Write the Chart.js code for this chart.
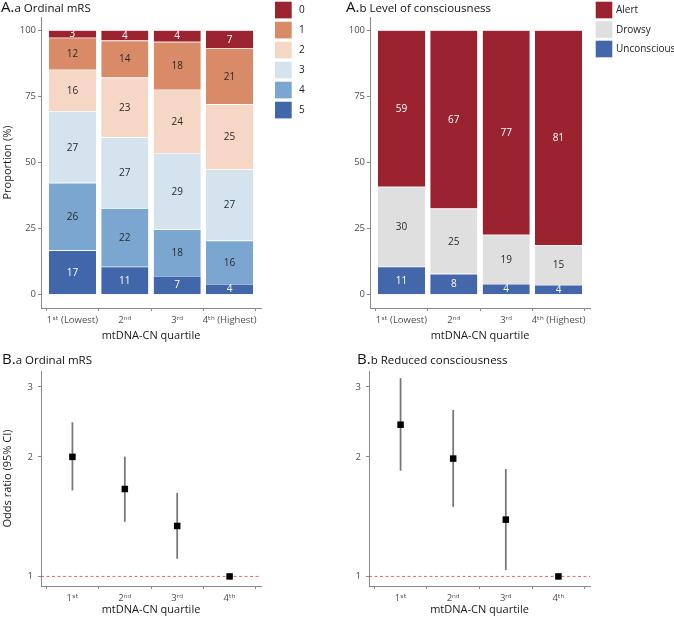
<!DOCTYPE html>
<html>
<head>
<meta charset="utf-8">
<script src="https://cdn.jsdelivr.net/npm/chart.js@4.4.1/dist/chart.umd.min.js"></script>
<style>
  html, body { margin: 0; padding: 0; background: #fff; }
  #wrap { position: relative; width: 674px; height: 618px; overflow: hidden; background: #fff; }
  canvas { position: absolute; }
</style>
</head>
<body>
<div id="wrap">
  <canvas id="chartAa" width="337" height="345" style="left:0;top:0"></canvas>
  <canvas id="chartAb" width="337" height="345" style="left:337px;top:0"></canvas>
  <canvas id="chartBa" width="337" height="273" style="left:0;top:345px"></canvas>
  <canvas id="chartBb" width="337" height="273" style="left:337px;top:345px"></canvas>
</div>
<script>
// --- DATA ---
const quartileLabels = ['1ˢᵗ (Lowest)', '2ⁿᵈ', '3ʳᵈ', '4ᵗʰ (Highest)'];
const quartileShort = ['1ˢᵗ', '2ⁿᵈ', '3ʳᵈ', '4ᵗʰ'];
const propTicks = [0, 25, 50, 75, 100];
const orTicks = [1, 2, 3];

// A.a ordinal mRS, proportion (%) per quartile
const mrs0 = [2.8, 3.9, 4.4, 6.8];
const mrs1 = [12.1, 14.0, 18.1, 21.2];
const mrs2 = [15.8, 22.6, 23.9, 24.6];
const mrs3 = [27.0, 26.8, 28.9, 26.9];
const mrs4 = [25.5, 22.1, 17.6, 16.4];
const mrs5 = [16.8, 10.6, 7.1, 4.1];

// A.b level of consciousness (%)
const alertPct = [59.2, 67.4, 77.3, 81.3];
const drowsyPct = [30.2, 24.7, 18.6, 15.0];
const unconsciousPct = [10.6, 7.9, 4.1, 3.7];

// B.a odds ratios, ordinal mRS
const mrsOR = [2.00, 1.66, 1.34, 1.00];
const mrsLow = [1.65, 1.375, 1.11, null];
const mrsHigh = [2.44, 2.00, 1.62, null];

// B.b odds ratios, reduced consciousness
const consOR = [2.41, 1.98, 1.39, 1.00];
const consLow = [1.85, 1.50, 1.04, null];
const consHigh = [3.15, 2.62, 1.86, null];

const refOR = 1;

// --- STYLE ---
const AXIS = '#8a8a8a';
const TICK_TXT = '#4d4d4d';
const TITLE_TXT = '#1a1a1a';
const FONT = '"Open Sans", "DejaVu Sans", sans-serif';
Chart.defaults.font.family = FONT;
Chart.defaults.animation = false;

// --- PLUGINS ---
// numbers in the middle of each stacked segment
const segLabels = {
    id: 'segLabels',
    afterDatasetsDraw(chart) {
        const ctx = chart.ctx;
        ctx.save();
        ctx.font = '10px ' + FONT;
        ctx.textAlign = 'center';
        ctx.textBaseline = 'middle';
        chart.data.datasets.forEach((ds, di) => {
            const meta = chart.getDatasetMeta(di);
            meta.data.forEach((bar, i) => {
                const p = bar.getProps(['x', 'y', 'base'], true);
                ctx.fillStyle = ds.labelColor;
                ctx.fillText(String(Math.round(ds.data[i].y)), p.x, (p.y + p.base) / 2 + 0.5);
            });
        });
        ctx.restore();
    }
};

// ggplot-like legend of square keys, top item = top of stack
const boxLegend = {
    id: 'boxLegend',
    afterDraw(chart, args, o) {
        if (!o || o.x === undefined) return;
        const ctx = chart.ctx;
        ctx.save();
        ctx.font = '10px ' + FONT;
        ctx.textAlign = 'left';
        ctx.textBaseline = 'middle';
        chart.data.datasets.slice().reverse().forEach((ds, k) => {
            const y = o.y + k * o.step;
            ctx.fillStyle = ds.backgroundColor;
            ctx.fillRect(o.x, y, o.size, o.size);
            ctx.fillStyle = '#222';
            ctx.fillText(ds.label, o.textX, y + o.size / 2 + 0.5);
        });
        ctx.restore();
    }
};

// panel title "A.a Ordinal mRS" with bigger letter
const panelTitle = {
    id: 'panelTitle',
    afterDraw(chart, args, o) {
        if (!o || !o.big) return;
        const ctx = chart.ctx;
        ctx.save();
        ctx.fillStyle = '#111';
        ctx.textBaseline = 'alphabetic';
        ctx.textAlign = 'left';
        ctx.font = '15px ' + FONT;
        ctx.fillText(o.big, o.x, o.y);
        const w = ctx.measureText(o.big).width;
        ctx.font = '11.5px ' + FONT;
        ctx.fillText(o.small, o.x + w, o.y);
        ctx.restore();
    }
};

// dashed reference line at OR = 1
const refLine = {
    id: 'refLine',
    beforeDatasetsDraw(chart, args, o) {
        if (!o || o.value === undefined) return;
        const {ctx, chartArea} = chart;
        const y = chart.scales.y.getPixelForValue(o.value);
        ctx.save();
        ctx.strokeStyle = '#e0403f';
        ctx.lineWidth = 0.8;
        ctx.setLineDash([3, 2.5]);
        ctx.beginPath();
        ctx.moveTo(chartArea.left, y);
        ctx.lineTo(chartArea.right, y);
        ctx.stroke();
        ctx.restore();
    }
};

// --- HELPERS ---
function xAxis(labels, height, tickPad, titlePad) {
    return {
        type: 'linear', min: 0.4, max: 4.6, bounds: 'data', offset: false, stacked: true,
        grid: { display: true, drawOnChartArea: false, drawTicks: true, tickLength: 3, color: AXIS, tickColor: AXIS },
        border: { display: true, color: AXIS, width: 1 },
        afterBuildTicks: s => { s.ticks = labels.map((l, i) => ({ value: i + 1 })); },
        ticks: { callback: (v, i) => labels[i], font: { size: 9.5 }, color: TICK_TXT, padding: tickPad, maxRotation: 0, autoSkip: false },
        title: { display: true, text: 'mtDNA-CN quartile', font: { size: 11 }, color: TITLE_TXT, padding: { top: 0, bottom: titlePad } },
        afterFit: s => { s.height = height; }
    };
}

function yStyle(width, tickPad, title) {
    return {
        grid: { display: true, drawOnChartArea: false, drawTicks: true, tickLength: 3, color: AXIS, tickColor: AXIS },
        border: { display: true, color: AXIS, width: 1 },
        ticks: { font: { size: 9.5 }, color: TICK_TXT, padding: tickPad, callback: v => String(v) },
        title: { display: !!title, text: title || '', font: { size: 11 }, color: TITLE_TXT, padding: { top: 1, bottom: 0 } },
        afterFit: s => { s.width = width; }
    };
}

function stackSet(label, values, color, textColor) {
    return {
        label: label,
        data: values.map((v, i) => ({ x: i + 1, y: v })),
        backgroundColor: color,
        labelColor: textColor,
        barPercentage: 0.9,
        categoryPercentage: 1,
        borderColor: 'rgba(255,255,255,0.7)',
        borderWidth: { top: 0.6, bottom: 0, left: 0, right: 0 },
        borderSkipped: false
    };
}

function propChart(id, datasets, yWidth, yTitle, padRight, legend, title) {
    const y = yStyle(yWidth, 2, yTitle);
    Object.assign(y, {
        type: 'linear', min: -5, max: 105, bounds: 'data', stacked: true,
        afterBuildTicks: s => { s.ticks = propTicks.map(v => ({ value: v })); }
    });
    return new Chart(document.getElementById(id), {
        type: 'bar',
        data: { datasets: datasets },
        options: {
            responsive: false,
            layout: { padding: { left: 0, top: 17, right: padRight, bottom: 0 } },
            scales: { x: xAxis(quartileLabels, 37, 4, 3), y: y },
            plugins: {
                legend: { display: false },
                tooltip: { enabled: false },
                boxLegend: legend,
                panelTitle: title
            }
        },
        plugins: [segLabels, boxLegend, panelTitle]
    });
}

function orChart(id, est, low, high, yWidth, yTitle, padRight, title) {
    const y = yStyle(yWidth, 5, yTitle);
    Object.assign(y, {
        type: 'logarithmic', min: 0.946, max: 3.29, bounds: 'data',
        afterBuildTicks: s => { s.ticks = orTicks.map(v => ({ value: v })); }
    });
    const ciData = [];
    low.forEach((l, i) => {
        if (l !== null) ciData.push({ x: i + 1, y: [l, high[i]] });
    });
    const x = xAxis(quartileShort, 32, 4, 1.5);
    x.stacked = false;
    return new Chart(document.getElementById(id), {
        type: 'bar',
        data: {
            datasets: [
                {
                    type: 'scatter',
                    data: est.map((v, i) => ({ x: i + 1, y: v })),
                    pointStyle: 'rect',
                    pointRadius: 4.6,
                    backgroundColor: '#000',
                    borderWidth: 0,
                    order: 0
                },
                {
                    type: 'bar',
                    data: ciData,
                    backgroundColor: '#777777',
                    barThickness: 1.1,
                    borderWidth: 0,
                    order: 1
                }
            ]
        },
        options: {
            responsive: false,
            layout: { padding: { left: 0, top: 26, right: padRight, bottom: 0 } },
            scales: { x: x, y: y },
            plugins: {
                legend: { display: false },
                tooltip: { enabled: false },
                refLine: { value: refOR },
                panelTitle: title
            }
        },
        plugins: [refLine, panelTitle]
    });
}

// --- A.a ---
propChart('chartAa', [
    stackSet('5', mrs5, '#4166a9', '#ffffff'),
    stackSet('4', mrs4, '#7ba6cf', '#2a2a2a'),
    stackSet('3', mrs3, '#d5e3ef', '#2a2a2a'),
    stackSet('2', mrs2, '#f6d7c6', '#2a2a2a'),
    stackSet('1', mrs1, '#d98a66', '#2a2a2a'),
    stackSet('0', mrs0, '#9c2431', '#ffffff')
], 41, 'Proportion (%)', 76,
    { x: 275, y: 1.7, step: 20, size: 16.7, textX: 299 },
    { big: 'A.', small: 'a Ordinal mRS', x: 1, y: 12 });

// --- A.b ---
propChart('chartAb', [
    stackSet('Unconscious', unconsciousPct, '#4367aa', '#ffffff'),
    stackSet('Drowsy', drowsyPct, '#dfdfdf', '#2a2a2a'),
    stackSet('Alert', alertPct, '#9b2330', '#ffffff')
], 33, null, 84,
    { x: 258.7, y: 1.7, step: 19.5, size: 16.6, textX: 279 },
    { big: 'A.', small: 'b Level of consciousness', x: 9, y: 12 });

// --- B.a ---
orChart('chartBa', mrsOR, mrsLow, mrsHigh, 41, 'Odds ratio (95% CI)', 76,
    { big: 'B.', small: 'a Ordinal mRS', x: 2, y: 19 });

// --- B.b ---
orChart('chartBb', consOR, consLow, consHigh, 32, null, 84,
    { big: 'B.', small: 'b Reduced consciousness', x: 20, y: 19 });
</script>
</body>
</html>
